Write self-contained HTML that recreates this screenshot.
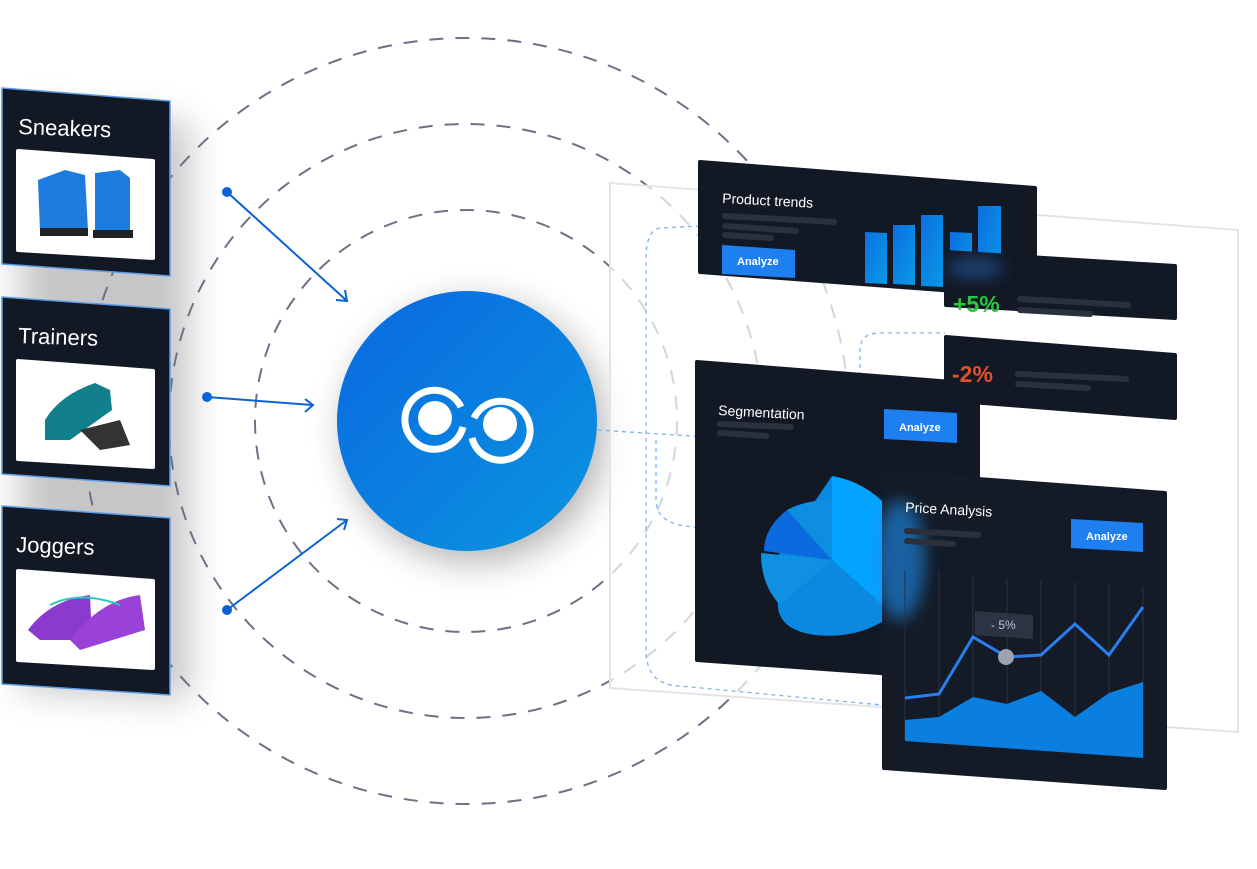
<!DOCTYPE html>
<html><head><meta charset="utf-8"><style>
html,body{margin:0;padding:0;background:#fff;}
svg{display:block;font-family:"Liberation Sans",sans-serif;}
</style></head><body>
<svg width="1257" height="869" viewBox="0 0 1257 869" xmlns="http://www.w3.org/2000/svg">
<defs>
<linearGradient id="lg" x1="0" y1="0" x2="1" y2="1"><stop offset="0" stop-color="#0a68e0"/><stop offset="1" stop-color="#0a95e0"/></linearGradient>
<linearGradient id="bar" x1="0" y1="0" x2="1" y2="1"><stop offset="0" stop-color="#0b6fe0"/><stop offset="1" stop-color="#0a9ae6"/></linearGradient>
<filter id="sh" x="-50%" y="-50%" width="200%" height="200%"><feGaussianBlur stdDeviation="18"/></filter>
<filter id="bl" x="-50%" y="-50%" width="200%" height="200%"><feGaussianBlur stdDeviation="8"/></filter>
</defs>
<polygon points="20,110 190,122 190,700 20,690" fill="#000" opacity="0.22" filter="url(#sh)"/>
<circle cx="475" cy="432" r="130" fill="#000" opacity="0.3" filter="url(#sh)"/>
<g fill="none" stroke="#6b7285" stroke-width="2" stroke-dasharray="14 12">
<circle cx="466" cy="421" r="383"/>
<circle cx="466" cy="421" r="297"/>
<circle cx="466" cy="421" r="211"/>
</g>
<polygon points="610,183 1238,230 1238,732 610,688" fill="#fff" fill-opacity="0.7" stroke="#e2e4e8" stroke-width="2"/>
<g fill="none" stroke="#7fb2ee" stroke-width="1.3" stroke-dasharray="4 4">
<path d="M598,430 L830,445 Q860,445 860,415 L860,350 Q860,333 880,333 L945,333"/>
<path d="M660,228 Q646,230 646,260 L646,650 Q646,685 680,686 L882,705"/>
<path d="M700,226 L660,228"/>
<path d="M656,440 L656,500 Q656,525 695,527"/>
</g>
<g stroke="#0b62d6" stroke-width="2" fill="none">
<line x1="227" y1="192" x2="346" y2="300"/><polyline points="336,300 347,301 345,290"/>
<line x1="207" y1="397" x2="312" y2="405"/><polyline points="305,399 313,405 305,412"/>
<line x1="227" y1="610" x2="347" y2="520"/><polyline points="337,519 347,520 344,530"/>
</g>
<g fill="#0b62d6"><circle cx="227" cy="192" r="5"/><circle cx="207" cy="397" r="5"/><circle cx="227" cy="610" r="5"/></g>
<circle cx="467" cy="421" r="130" fill="url(#lg)"/>
<g fill="none" stroke="#fff" stroke-width="7">
<path d="M461,407 A29.5,29.5 0 1 0 463,427"/>
<path d="M474,418 A29.5,29.5 0 1 1 472,438"/>
</g>
<g fill="#fff"><circle cx="435" cy="418" r="17"/><circle cx="500" cy="424" r="17"/></g>
<g stroke-linejoin="round">
<polygon points="2,88 170,101 170,276 2,264" fill="#121824" stroke="#5d9de8" stroke-width="1.5"/>
<text x="18" y="134" fill="#fff" font-size="22" transform="rotate(2 18 134)">Sneakers</text>
<polygon points="18,151 153,161 153,258 18,250" fill="#fff" stroke="#fff" stroke-width="4"/>
<path d="M38,180 L65,170 L85,175 L88,230 L40,232 Z" fill="#1e7be0"/><path d="M95,173 L120,170 L130,178 L130,232 L95,235 Z" fill="#1e7be0"/>
<rect x="40" y="228" width="48" height="8" fill="#222"/><rect x="93" y="230" width="40" height="8" fill="#222"/>
<polygon points="2,297 170,309 170,486 2,474" fill="#121824" stroke="#5d9de8" stroke-width="1.5"/>
<text x="18" y="343" fill="#fff" font-size="22" transform="rotate(2 18 343)">Trainers</text>
<polygon points="18,361 153,371 153,467 18,459" fill="#fff" stroke="#fff" stroke-width="4"/>
<path d="M45,420 Q60,395 95,383 L110,390 L112,410 L70,440 L45,440 Z" fill="#127f8c"/>
<path d="M80,430 L120,420 L130,445 L100,450 Z" fill="#333"/>
<polygon points="2,506 170,518 170,695 2,684" fill="#121824" stroke="#5d9de8" stroke-width="1.5"/>
<text x="16" y="552" fill="#fff" font-size="22" transform="rotate(2 16 552)">Joggers</text>
<polygon points="18,571 153,581 153,668 18,660" fill="#fff" stroke="#fff" stroke-width="4"/>
<path d="M28,630 Q50,600 90,595 L92,640 L40,640 Z" fill="#8b3ad0"/>
<path d="M70,640 Q100,600 140,595 L145,630 L80,650 Z" fill="#9a42d8"/>
<path d="M50,605 Q80,590 120,605" stroke="#2cc7c0" stroke-width="2" fill="none"/>
</g>
<polygon points="700,162 1035,188 1035,297 700,272" fill="#121824" stroke="#121824" stroke-width="4" stroke-linejoin="round"/>
<text x="722" y="203" fill="#fff" font-size="14" transform="rotate(3 722 203)">Product trends</text>
<g stroke="#2a303c" stroke-width="6" stroke-linecap="round"><line x1="725" y1="216" x2="834" y2="222"/><line x1="725" y1="226" x2="796" y2="231"/><line x1="725" y1="235" x2="771" y2="238"/></g>
<polygon points="722,245 795,250 795,278 722,274" fill="#1e7ff0"/>
<text x="737" y="265" fill="#fff" font-size="11" font-weight="bold">Analyze</text>
<g fill="url(#bar)"><polygon points="865,232 887,233 887,284 865,283"/><polygon points="893,225 915,225 915,285 893,284"/><polygon points="921,215 943,215 943,287 921,286"/><polygon points="950,232 972,233 972,288 950,287"/><polygon points="978,206 1001,206 1001,289 978,288"/></g>
<polygon points="697,362 978,384 978,680 697,660" fill="#121824" stroke="#121824" stroke-width="4" stroke-linejoin="round"/>
<text x="718" y="415" fill="#fff" font-size="14" transform="rotate(3 718 415)">Segmentation</text>
<g stroke="#2a303c" stroke-width="6" stroke-linecap="round"><line x1="720" y1="424" x2="791" y2="427"/><line x1="720" y1="433" x2="766" y2="436"/></g>
<polygon points="884,409 957,413 957,443 884,439" fill="#1e7ff0"/>
<text x="899" y="431" fill="#fff" font-size="11" font-weight="bold">Analyze</text>
<path d="M832,476 L832,560 L894,614 Q860,640 815,635 Q780,630 778,607 L775,560 Z" fill="#0b89e0"/>
<path d="M832,476 Q870,482 900,520 L900,620 L832,560 Z" fill="#03a4ff"/>
<path d="M787,510 L832,560 L764,551 Q764,528 787,510 Z" fill="#0a6be0"/>
<path d="M787,510 Q805,500 832,500 L832,560 Z" fill="#0d8ee0"/>
<path d="M761,553 L832,560 L780,605 Q761,585 761,553 Z" fill="#0f90e0"/>
<polygon points="946,252 1175,266 1175,318 946,305" fill="#121824" stroke="#121824" stroke-width="4" stroke-linejoin="round"/>
<ellipse cx="975" cy="268" rx="28" ry="10" fill="#2a6fd0" opacity="0.5" filter="url(#bl)"/>
<text x="953" y="312" fill="#28c840" font-size="23" font-weight="bold">+5%</text>
<g stroke="#2a303c" stroke-width="6" stroke-linecap="round"><line x1="1020" y1="299" x2="1128" y2="305"/><line x1="1020" y1="310" x2="1090" y2="314"/></g>
<polygon points="946,337 1175,355 1175,418 946,400" fill="#121824" stroke="#121824" stroke-width="4" stroke-linejoin="round"/>
<text x="952" y="382" fill="#e0522a" font-size="23" font-weight="bold">-2%</text>
<g stroke="#2a303c" stroke-width="6" stroke-linecap="round"><line x1="1018" y1="374" x2="1126" y2="379"/><line x1="1018" y1="384" x2="1088" y2="388"/></g>
<polygon points="884,472 1165,493 1165,788 884,768" fill="#141b27" stroke="#141b27" stroke-width="4" stroke-linejoin="round"/>
<ellipse cx="900" cy="560" rx="25" ry="60" fill="#1e8ff0" opacity="0.6" filter="url(#bl)"/>
<text x="905" y="512" fill="#fff" font-size="14" transform="rotate(3 905 512)">Price Analysis</text>
<g stroke="#2a303c" stroke-width="6" stroke-linecap="round"><line x1="907" y1="531" x2="978" y2="535"/><line x1="907" y1="541" x2="953" y2="544"/></g>
<polygon points="1071,519 1143,523 1143,552 1071,548" fill="#1e7ff0"/>
<text x="1086" y="540" fill="#fff" font-size="11" font-weight="bold">Analyze</text>
<g stroke="#2a3140" stroke-width="1"><line x1="905" y1="570" x2="905" y2="740"/><line x1="939" y1="572" x2="939" y2="740"/><line x1="973" y1="576" x2="973" y2="740"/><line x1="1007" y1="578" x2="1007" y2="740"/><line x1="1041" y1="580" x2="1041" y2="745"/><line x1="1075" y1="582" x2="1075" y2="750"/><line x1="1109" y1="584" x2="1109" y2="755"/><line x1="1143" y1="586" x2="1143" y2="758"/></g>
<polygon points="905,720 939,717 973,697 1007,704 1041,691 1075,717 1109,693 1143,682 1143,758 905,741" fill="#0a7fe0"/>
<polyline points="905,698 939,694 973,637 1007,657 1041,655 1075,624 1109,655 1143,607" fill="none" stroke="#2a7ef0" stroke-width="3"/>
<polygon points="975,611 1033,615 1033,639 975,635" fill="#2a3442"/>
<text x="991" y="629" fill="#b8c2d0" font-size="12">- 5%</text>
<circle cx="1006" cy="657" r="8" fill="#9aa3ae"/>
</svg>
</body></html>
